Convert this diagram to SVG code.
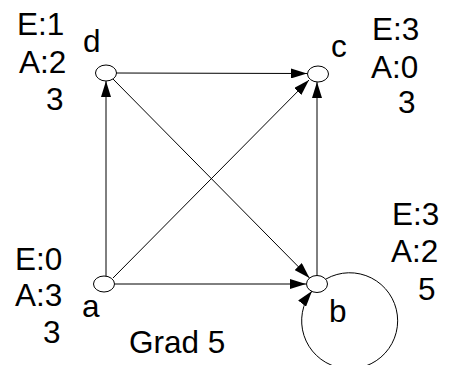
<svg xmlns="http://www.w3.org/2000/svg" width="458" height="365" viewBox="0 0 458 365">
<style>
.e{fill:none;stroke:#000;stroke-width:1}
.n{fill:#fff;stroke:#000;stroke-width:1}
text{font-family:"Liberation Sans",Arial,sans-serif;font-size:31.5px;fill:#000}
</style>
<defs>
<marker id="ah" markerUnits="userSpaceOnUse" markerWidth="16" markerHeight="10" refX="16" refY="5" orient="auto" viewBox="0 0 16 10">
<path d="M0,0 L16,5 L0,10 z" fill="#000"/>
</marker>
</defs>
<rect width="458" height="365" fill="#fff"/>
<g id="edges">
<line class="e" x1="106" y1="277" x2="106" y2="81" marker-end="url(#ah)"/>
<line class="e" x1="116" y1="73" x2="307" y2="73.5" marker-end="url(#ah)"/>
<line class="e" x1="113" y1="278" x2="309" y2="80" marker-end="url(#ah)"/>
<line class="e" x1="113" y1="79" x2="309.5" y2="278" marker-end="url(#ah)"/>
<line class="e" x1="115" y1="284" x2="306" y2="284" marker-end="url(#ah)"/>
<line class="e" x1="317" y1="276" x2="317" y2="82" marker-end="url(#ah)"/>
<path class="e" d="M326,279 A48,48 0 1 1 312,291" marker-end="url(#ah)"/>
</g>
<g id="node-d">
<ellipse class="n" cx="106" cy="73" rx="10.5" ry="8"/>
<text x="83" y="52">d</text>
<text x="17" y="35">E:1</text>
<text x="19" y="73">A:2</text>
<text x="46" y="110">3</text>
</g>
<g id="node-c">
<ellipse class="n" cx="318" cy="74" rx="10.5" ry="8"/>
<text x="331" y="57">c</text>
<text x="372" y="40">E:3</text>
<text x="371" y="78">A:0</text>
<text x="398" y="113">3</text>
</g>
<g id="node-a">
<ellipse class="n" cx="104" cy="284" rx="10.5" ry="8"/>
<text x="82" y="317">a</text>
<text x="15" y="270">E:0</text>
<text x="15" y="306">A:3</text>
<text x="43" y="343">3</text>
</g>
<g id="node-b">
<ellipse class="n" cx="317" cy="284" rx="10.5" ry="8.5"/>
<text x="329" y="322">b</text>
<text x="392" y="225">E:3</text>
<text x="391" y="262">A:2</text>
<text x="418" y="300">5</text>
</g>
<text x="129" y="353">Grad 5</text>
</svg>
